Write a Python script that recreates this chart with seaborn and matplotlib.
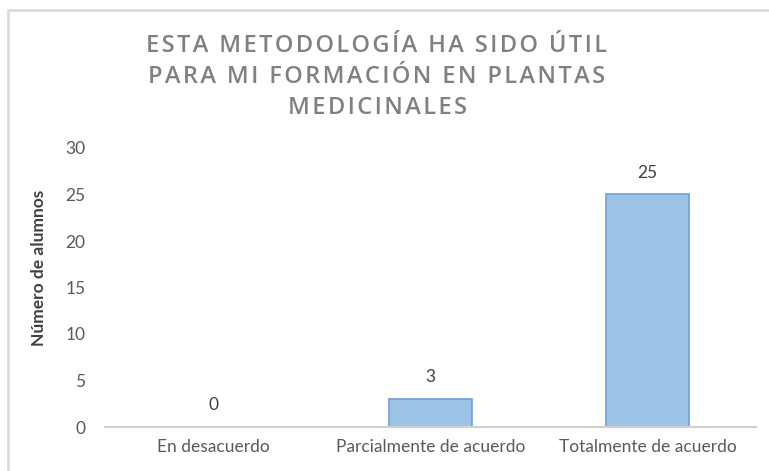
import matplotlib
matplotlib.use("Agg")
import matplotlib.pyplot as plt
import seaborn as sns
import pandas as pd
from matplotlib.patches import Rectangle

categories = ["En desacuerdo", "Parcialmente de acuerdo", "Totalmente de acuerdo"]
values = [0, 3, 25]
yticks = [0, 5, 10, 15, 20, 25, 30]
title_lines = ["ESTA METODOLOGÍA HA SIDO ÚTIL", "PARA MI FORMACIÓN EN PLANTAS", "MEDICINALES"]
ylabel = "Número de alumnos"

sns.set_style("white")
plt.rcParams['font.family'] = ['Lato', 'DejaVu Sans']

df = pd.DataFrame({"cat": categories, "val": values})

fig = plt.figure(figsize=(7.69, 4.71), dpi=100)
ax = fig.add_axes([105/769, 1-427/471, (756-105)/769, (427-148)/471])

sns.barplot(data=df, x="cat", y="val", ax=ax, color="#9DC3E6", width=0.38,
            edgecolor="#6F9FD8", linewidth=1.2, saturation=1)

ax.set_ylim(0, 30)
ax.set_xlim(-0.5, 2.5)
ax.set_yticks(yticks)
ax.tick_params(axis='y', labelsize=12.5, colors="#595959", length=0, pad=14)
ax.tick_params(axis='x', labelsize=12.5, colors="#595959", length=0, pad=9)
for s in ["top", "right", "left"]:
    ax.spines[s].set_visible(False)
ax.spines["bottom"].set_color("#D0D0D0")
ax.spines["bottom"].set_linewidth(1.5)
ax.set_xlabel("")
ax.set_ylabel(ylabel, fontsize=12.5, fontweight="bold", color="#404040")
ax.yaxis.set_label_coords((47-105)/651, (427-268)/279)

for i, v in enumerate(values):
    ax.annotate(str(v), (i, v), xytext=(0, 10), textcoords="offset points",
                ha="center", va="bottom", fontsize=12.5, color="#404040")

sp = "\u200a"
title = "\n".join(sp.join(list(line)) for line in title_lines)
fig.text(377/769, 1-77/471, title, ha="center", va="center", fontsize=17,
         fontweight="semibold", color="#808080", linespacing=1.4,
         family=["Open Sans", "DejaVu Sans"])

fig.patches.append(Rectangle((8/769, -0.1), 1.2, 1 - 10/471 + 0.1,
                             transform=fig.transFigure, fill=False,
                             edgecolor="#D9D9D9", linewidth=1.8))

fig.savefig("out.png", dpi=100, facecolor="white")
